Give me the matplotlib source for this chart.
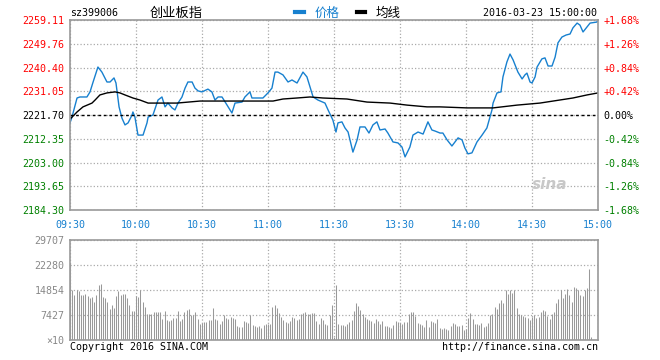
import matplotlib.pyplot as plt
from matplotlib.lines import Line2D

plt.rcParams['font.family'] = ['DejaVu Sans Mono', 'Noto Sans CJK SC']

prev_close = 2221.70
y_ticks = [2184.30, 2193.65, 2203.00, 2212.35, 2221.70, 2231.05, 2240.40, 2249.76, 2259.11]
time_ticks = [0, 30, 60, 90, 120, 150, 180, 210, 240]
time_labels = ['09:30', '10:00', '10:30', '11:00', '11:30', '13:30', '14:00', '14:30', '15:00']

# price line (minute index from 09:30, price)
price_t = [0, 0.9, 3.2, 4.5, 7.7, 9.1, 10.5, 12.7, 14.5, 16.8, 18.2, 20.0, 20.9, 22.3, 23.6,
           25.0, 26.4, 28.2, 28.6, 29.5, 30.9, 33.2, 35.0, 35.5, 37.7, 40.0, 41.8, 43.2, 44.5,
           46.4, 47.7, 49.1, 50.9, 52.3, 53.6, 55.5, 56.8, 58.2, 60.0, 62.7, 64.5, 65.9, 67.3,
           69.1, 73.6, 75.0, 78.2, 79.5, 81.8, 82.7, 84.1, 87.7, 90.0, 91.8, 93.2, 94.5, 96.8,
           99.1, 100.9, 103.2, 105.9, 107.7, 109.1, 110.5, 112.7, 115.9, 117.3, 119.1, 119.5,
           120.9, 121.8, 123.6, 125.0, 126.4, 128.6, 130.5, 131.8, 134.1, 135.9, 137.7, 139.5,
           140.9, 143.2, 144.5, 146.8, 149.1, 150.9, 152.3, 154.5, 155.9, 158.2, 160.5, 162.7,
           164.5, 165.9, 168.2, 169.5, 171.4, 173.6, 175.0, 176.4, 178.2, 179.5, 180.9, 182.7,
           185.0, 187.3, 189.5, 190.5, 191.8, 192.3, 194.1, 195.9, 196.8, 198.6, 200.0, 201.4,
           203.6, 205.5, 206.8, 207.7, 209.1, 210.0, 211.4, 212.3, 214.5, 215.9, 217.3, 219.1,
           220.5, 221.8, 223.6, 225.5, 227.3, 228.6, 230.5, 231.8, 233.2, 235.0, 236.4, 239.5,
           240]
price_v = [2218.6, 2220.9, 2228.4, 2228.8, 2228.8, 2230.8, 2234.7, 2240.6, 2238.6, 2234.7,
           2234.7, 2236.3, 2234.3, 2224.9, 2220.5, 2217.8, 2218.6, 2221.7, 2222.9, 2220.9,
           2213.8, 2213.8, 2218.6, 2220.9, 2221.7, 2227.6, 2228.8, 2224.9, 2226.4, 2224.5,
           2223.7, 2226.4, 2228.8, 2232.3, 2234.7, 2234.7, 2232.3, 2231.2, 2230.8, 2231.9,
           2230.8, 2227.6, 2228.8, 2228.8, 2222.5, 2226.4, 2226.8, 2228.8, 2230.8, 2228.4,
           2228.4, 2228.4, 2230.4, 2232.3, 2238.6, 2238.6, 2237.5, 2234.7, 2235.5, 2234.3,
           2238.6, 2236.7, 2232.7, 2228.8, 2227.6, 2226.4, 2223.7, 2220.5, 2219.7, 2215.0,
           2218.6, 2219.0, 2216.6, 2215.0, 2207.1, 2211.9, 2217.0, 2217.0, 2214.6, 2217.8,
           2219.0, 2215.8, 2216.2, 2214.6, 2211.1, 2210.7, 2209.1, 2205.2, 2209.1, 2213.8,
           2215.0, 2214.2, 2219.0, 2215.8, 2215.4, 2214.6, 2214.6, 2211.9, 2209.5, 2211.1,
           2212.7, 2211.9, 2208.7, 2206.4, 2206.8, 2211.1, 2213.8, 2216.6, 2219.7, 2223.7,
           2226.4, 2230.4, 2230.8, 2236.7, 2242.6, 2245.7, 2243.4, 2238.6, 2235.9, 2237.5,
           2238.2, 2234.7, 2234.3, 2236.7, 2240.6, 2243.8, 2244.2, 2241.0, 2241.0, 2244.5,
           2250.1, 2252.4, 2253.2, 2253.6, 2256.0, 2257.9, 2257.1, 2254.4, 2256.4, 2257.9,
           2258.3, 2259.1]

avg_t = [0.5, 3.2, 5.9, 10.0, 11.4, 13.6, 16.8, 20.5, 22.7, 25.0, 28.6, 31.8, 35.5, 48.6,
         59.1, 92.3, 96.8, 103.2, 109.1, 115.0, 125.9, 135.0, 145.5, 153.2, 162.3, 168.2,
         180.5, 192.3, 203.2, 213.6, 228.6, 235.0, 240]
avg_v = [2220.5, 2222.9, 2224.9, 2226.4, 2227.6, 2229.6, 2230.4, 2230.8, 2230.4, 2229.6,
         2228.4, 2227.6, 2226.4, 2226.4, 2227.2, 2227.2, 2228.0, 2228.4, 2228.8, 2228.4,
         2228.0, 2226.8, 2226.4, 2225.6, 2224.9, 2224.9, 2224.5, 2224.5, 2225.6, 2226.4,
         2228.4, 2229.6, 2230.4]

# volume per minute, in thousands (axis unit x10)
vol_k = [
    22.9, 14.8, 13.5, 14.8, 14.5, 13.5, 13.5, 13.8, 13.2, 12.5,
    12.8, 11.3, 13.5, 16.4, 16.7, 12.8, 12.5, 11.3, 9.3, 10.5,
    9.5, 13.2, 14.5, 13.5, 13.8, 13.8, 12.5, 10.5, 8.7, 8.7,
    13.0, 12.8, 14.8, 11.3, 9.8, 7.7, 7.7, 7.7, 8.3, 8.3,
    8.3, 8.3, 6.3, 8.7, 6.0, 5.7, 6.0, 6.5, 6.5, 8.7,
    5.7, 6.3, 8.3, 9.0, 9.3, 7.3, 7.5, 8.3, 6.3, 4.9,
    5.0, 5.4, 5.4, 5.9, 5.9, 9.5, 6.2, 5.9, 4.8, 5.6,
    7.3, 6.5, 6.2, 6.8, 6.5, 6.2, 4.2, 3.9, 3.9, 5.6,
    5.4, 5.0, 7.4, 4.5, 4.2, 3.9, 4.2, 3.6, 4.5, 4.8,
    4.8, 4.8, 9.8, 10.4, 9.5, 8.0, 6.8, 5.9, 5.4, 5.1,
    5.6, 6.8, 6.5, 5.9, 6.2, 7.7, 8.0, 8.3, 7.7, 7.7,
    8.0, 8.0, 5.6, 4.8, 6.5, 5.9, 4.8, 4.5, 7.4, 10.4,
    1.0,
    16.3, 4.8, 4.5, 4.5, 4.2, 4.8, 5.3, 5.9, 8.6, 10.9,
    10.1, 8.9, 7.7, 6.8, 6.2, 5.9, 5.6, 5.0, 6.2, 5.6,
    4.8, 5.6, 4.2, 4.2, 3.9, 3.6, 4.5, 5.6, 5.3, 5.0,
    4.8, 5.3, 5.3, 7.7, 8.3, 8.3, 7.1, 5.0, 4.8, 4.5,
    3.9, 5.9, 3.9, 5.6, 5.3, 5.0, 6.2, 3.6, 3.3, 3.6,
    3.3, 3.0, 4.2, 5.0, 4.8, 4.2, 4.2, 4.5, 3.0, 3.3,
    6.5, 8.0, 6.2, 4.8, 4.8, 4.5, 5.0, 3.9, 4.2, 5.0,
    7.4, 7.7, 9.8, 9.2, 11.0, 11.9, 11.0, 14.9, 13.7, 14.9,
    14.0, 14.9, 9.5, 7.7, 7.4, 7.1, 6.8, 6.5, 5.9, 6.8,
    7.4, 6.5, 6.8, 8.3, 8.9, 8.6, 7.1, 6.2, 7.7, 8.3, 11.0,
    12.2, 14.9, 12.5, 13.7, 15.1, 13.4, 11.3, 15.7, 15.4, 14.9,
    13.4, 13.1, 14.9, 15.4, 21.1,
    0.9, 0, 0, 0]
vol_ticks = [0, 7427, 14854, 22280, 29707]
vol_labels = ['\u00d710', '7427', '14854', '22280', '29707']

blue = '#1780cf'
grid_c = '#aaaaaa'
edge_c = '#999999'

fig = plt.figure(figsize=(6.6, 3.6), dpi=100)
ax = fig.add_axes([70 / 660, 1 - 210 / 360, 528 / 660, 190 / 360])
axv = fig.add_axes([70 / 660, 1 - 340 / 360, 528 / 660, 100 / 360])

# main price chart
ax.plot(price_t, price_v, color=blue, lw=1)
ax.plot(avg_t, avg_v, color='black', lw=1)
ax.axhline(prev_close, color='black', lw=1, ls=(0, (2, 2)))
ax.set_xlim(0, 240)
ax.set_ylim(y_ticks[0], y_ticks[-1])
ax.set_xticks(time_ticks)
ax.set_xticklabels(time_labels, color=blue, fontsize=7.2)
ax.set_yticks(y_ticks)
ax.set_yticklabels(['%.2f' % v for v in y_ticks], fontsize=7.2)
ax.tick_params(length=0, pad=4)
ax.tick_params(axis='x', pad=7)
ax.grid(True, color=grid_c, ls=':', lw=0.9)
for s in ax.spines.values():
    s.set_color(edge_c)
    s.set_linewidth(1.2)

def tone(v):
    if v > prev_close + 0.001:
        return '#ff0000'
    if v < prev_close - 0.001:
        return '#008000'
    return 'black'

for lab, v in zip(ax.get_yticklabels(), y_ticks):
    lab.set_color(tone(v))

axr = ax.twinx()
axr.set_ylim(ax.get_ylim())
axr.set_yticks(y_ticks)
pct = []
for v in y_ticks:
    p = (v / prev_close - 1) * 100
    pct.append('0.00%' if abs(p) < 0.005 else '%+.2f%%' % p)
axr.set_yticklabels(pct, fontsize=7.2)
axr.tick_params(length=0, pad=4)
for lab, v in zip(axr.get_yticklabels(), y_ticks):
    lab.set_color(tone(v))
for s in axr.spines.values():
    s.set_visible(False)

# volume chart, one thin bar per minute
axv.vlines(range(len(vol_k)), 0, [v * 1000 for v in vol_k], color=edge_c, lw=0.75)
axv.set_xlim(0, 240)
axv.set_ylim(0, vol_ticks[-1])
axv.set_xticks(time_ticks)
axv.set_xticklabels([])
axv.set_yticks(vol_ticks)
axv.set_yticklabels(vol_labels, fontsize=7.2, color='#888888')
axv.tick_params(length=0, pad=4)
axv.grid(True, color=grid_c, ls=':', lw=0.9)
for s in axv.spines.values():
    s.set_color(edge_c)
    s.set_linewidth(1.2)

# header texts
fig.text(70 / 660, 1 - 13 / 360, 'sz399006', fontsize=7.2, va='center')
fig.text(150 / 660, 1 - 13 / 360, '创业板指', fontsize=9.5, va='center',
         family=['Noto Sans CJK SC', 'DejaVu Sans'])
fig.text(597 / 660, 1 - 13 / 360, '2016-03-23 15:00:00', fontsize=7.2, va='center', ha='right')
handles = [Line2D([], [], color=blue, lw=3), Line2D([], [], color='black', lw=3)]
leg = fig.legend(handles, ['价格', '均线'], loc='center', bbox_to_anchor=(348 / 660, 1 - 13 / 360),
                 ncol=2, frameon=False, handlelength=0.7, handletextpad=0.8, columnspacing=1.4,
                 prop={'family': 'Noto Sans CJK SC', 'size': 9})
leg.get_texts()[0].set_color(blue)

fig.text(550 / 660, 1 - 185 / 360, 'sina', fontsize=11, style='italic', weight='bold',
         color='#c8c8c8', ha='center', va='center', family='DejaVu Sans')

# footer
fig.text(70 / 660, 1 - 347 / 360, 'Copyright 2016 SINA.COM', fontsize=7.2, va='center')
fig.text(598 / 660, 1 - 347 / 360, 'http://finance.sina.com.cn', fontsize=7.2, va='center', ha='right')

fig.savefig('out.png', dpi=100)
